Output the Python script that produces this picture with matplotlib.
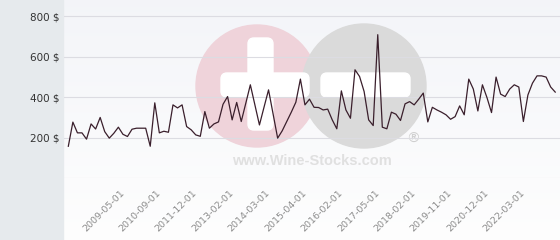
import numpy as np
import matplotlib
matplotlib.use("Agg")
import matplotlib.pyplot as plt
from matplotlib.patches import Circle, FancyBboxPatch, Rectangle

# price series (one value per category)
prices = [158, 277, 224, 224, 193, 268, 243, 300, 230, 198,
          222, 252, 217, 206, 242, 247, 247, 247, 158, 372,
          224, 232, 227, 362, 347, 362, 255, 239, 214, 207,
          329, 247, 268, 278, 365, 403, 288, 374, 280, 370,
          461, 362, 263, 350, 436, 317, 198, 234, 280, 326,
          375, 489, 362, 390, 350, 349, 337, 341, 288, 244,
          431, 337, 296, 535, 502, 428, 288, 260, 708, 252,
          244, 326, 316, 285, 367, 378, 362, 390, 420, 278,
          350, 337, 326, 313, 291, 304, 357, 313, 489, 440,
          332, 461, 398, 324, 499, 415, 403, 440, 461, 450,
          280, 411, 469, 505, 505, 499, 450, 425]

tick_labels = ["2009-05-01", "2010-09-01", "2011-12-01", "2013-02-01",
               "2014-03-01", "2015-04-01", "2016-02-01", "2017-05-01",
               "2018-02-01", "2019-11-01", "2020-12-01", "2022-03-01"]
first_tick = 12
tick_step = 8

y_ticks = [200, 400, 600, 800]

W, H = 560, 240
fig = plt.figure(figsize=(W / 100, H / 100), dpi=100)

# background layer in pixel coordinates
bg = fig.add_axes([0, 0, 1, 1], zorder=0)
bg.set_xlim(0, W)
bg.set_ylim(H, 0)
bg.axis("off")

grad = np.linspace(0, 1, 100).reshape(-1, 1)
top = np.array([0.955, 0.96, 0.975])
bot = np.array([0.995, 0.995, 0.995])
img = top + (bot - top) * grad[..., None]
bg.imshow(img, extent=[64, W, H, 0], aspect="auto", zorder=0)
bg.add_patch(Rectangle((0, 0), 63, H, color="#e6eaed", zorder=1))

# watermark
bg.add_patch(Circle((257, 86), 61, color="#efd3da", zorder=2))
bg.add_patch(Circle((364, 86), 62, color="#dadada", zorder=3))
bg.add_patch(FancyBboxPatch((227, 79), 76, 12, boxstyle="round,pad=6",
                            color="white", zorder=4))
bg.add_patch(FancyBboxPatch((254, 44), 13, 80, boxstyle="round,pad=6",
                            color="white", zorder=4))
bg.add_patch(FancyBboxPatch((327, 79), 77, 12, boxstyle="round,pad=6",
                            color="white", zorder=4))
bg.text(312, 161, "www.Wine-Stocks.com", ha="center", va="center",
        fontsize=10.5, fontweight="bold", family="Liberation Sans",
        color="#e0e0e0", zorder=4)
bg.text(413, 139, "\u00ae", ha="center", va="center", fontsize=10,
        color="#cfcfcf", zorder=4)

# main chart
ax = fig.add_axes([64 / W, (H - 178.3) / H, (W - 64) / W, 178.3 / H], zorder=1)
ax.patch.set_alpha(0)
x = np.arange(len(prices))
ax.plot(x, prices, color="#3a1f2c", lw=0.9, zorder=3)

ax.set_xlim(-0.95, len(prices) + 0.05)
ax.set_ylim(0, 879)
ax.set_yticks(y_ticks)
ax.set_yticklabels([f"{v} $" for v in y_ticks])
ax.yaxis.grid(True, color="#dcdce2", lw=0.8)
ax.axhline(0, color="#dcdce2", lw=0.8)

ticks = [first_tick + tick_step * i for i in range(len(tick_labels))]
ax.set_xticks(ticks)
ax.set_xticklabels(tick_labels, rotation=45, ha="right", va="center",
                   rotation_mode="anchor")

for s in ax.spines.values():
    s.set_visible(False)
ax.tick_params(axis="y", length=0, pad=3.5, labelsize=7.5, labelcolor="#333333")
ax.tick_params(axis="x", length=0, pad=9.5, labelsize=6.8, labelcolor="#8c8c8c")

fig.savefig("out.png", dpi=100)
